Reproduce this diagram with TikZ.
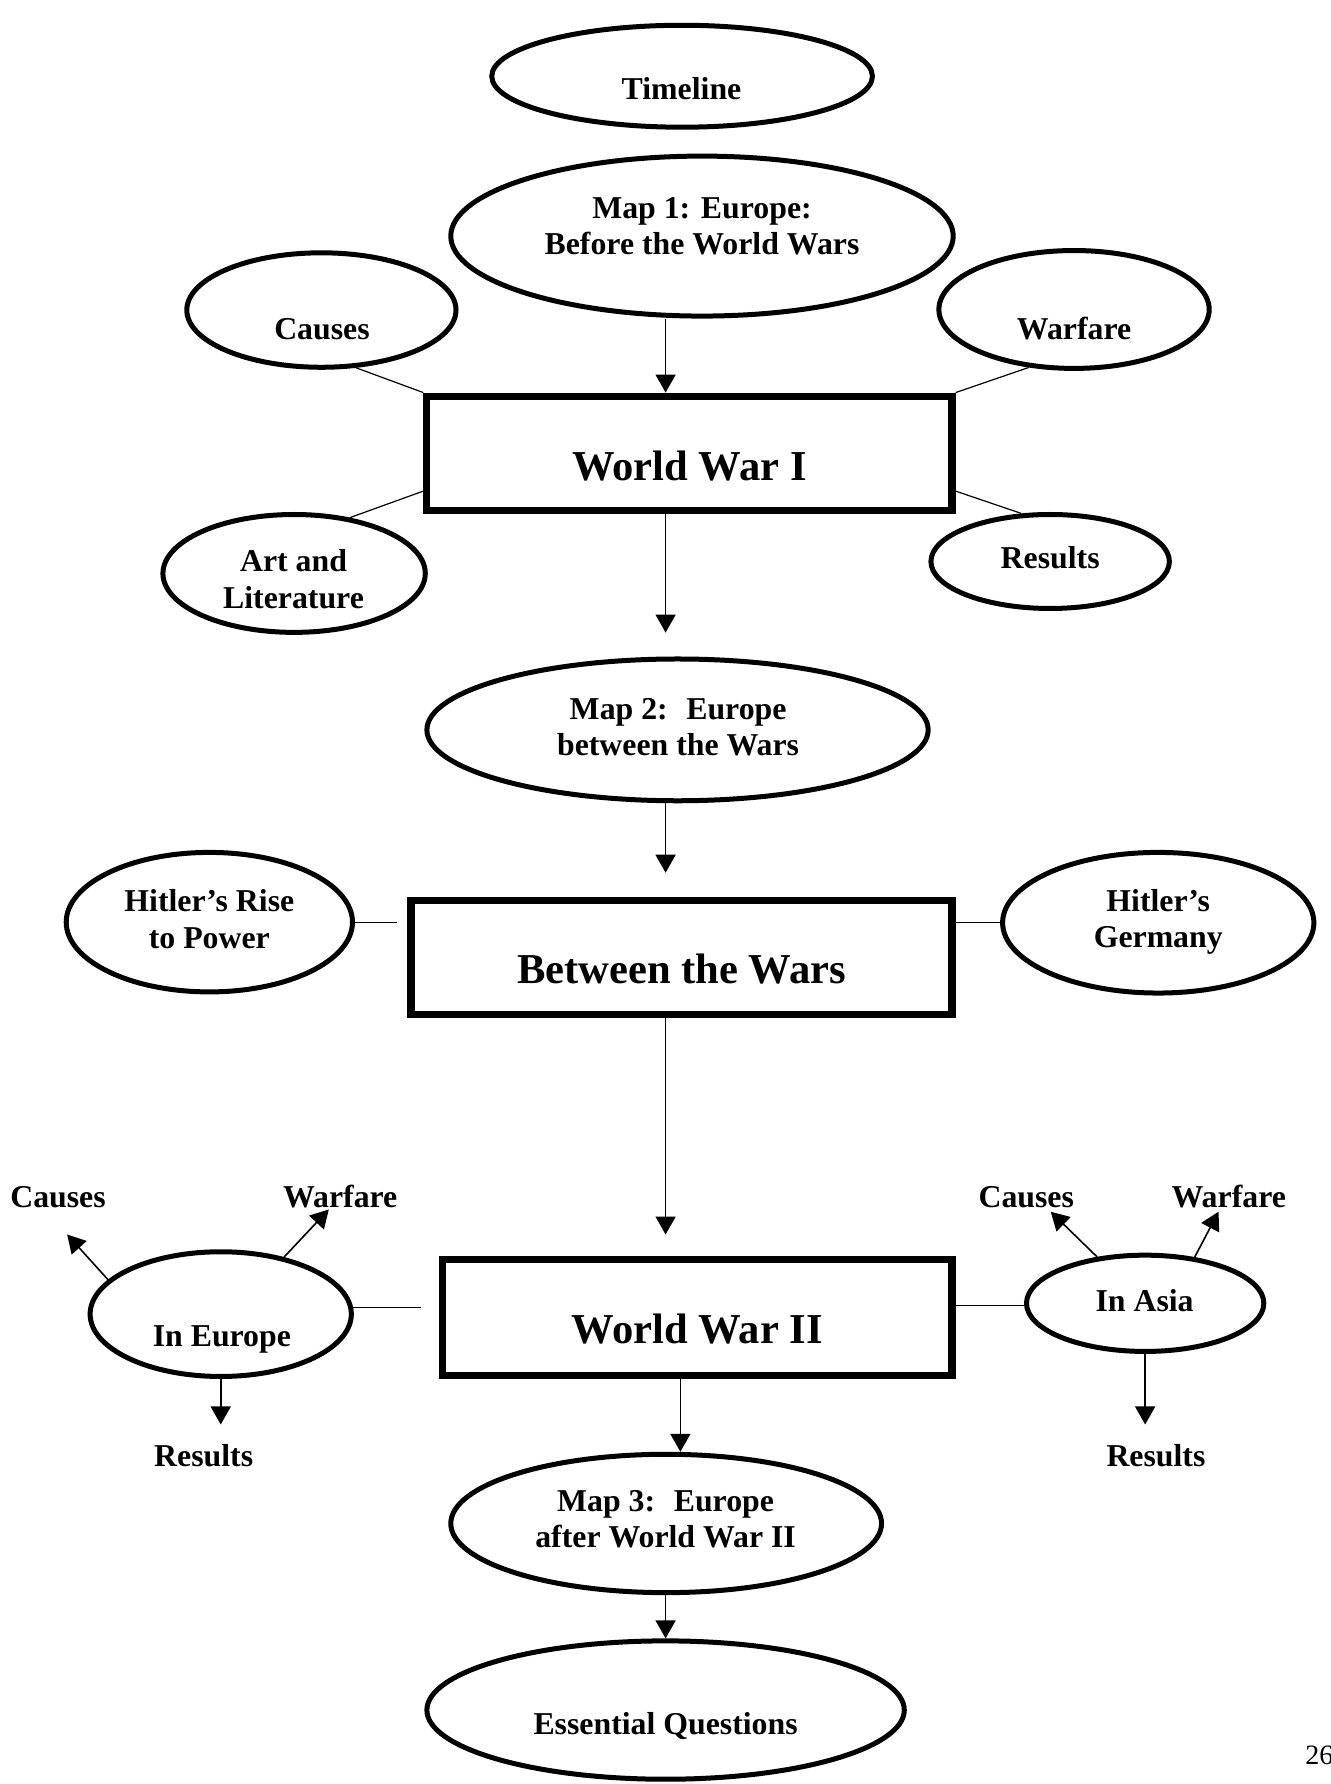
\documentclass[tikz,border=0pt]{standalone}
\usepackage{fontspec}
\setmainfont{Liberation Serif}
\usetikzlibrary{shapes.geometric, arrows.meta, calc, fit}

\begin{document}
\begin{tikzpicture}[x=0.56885pt, y=-0.56885pt,
  oval/.style 2 args={draw, ellipse, line width=2.5pt, inner sep=0pt,
    minimum width=#1*0.56885pt, minimum height=#2*0.56885pt},
  panel/.style={draw, rectangle, line width=3.6pt, inner sep=0pt},
  lbl/.style={font=\bfseries\fontsize{15.9}{18.2}\selectfont, align=center, inner sep=0pt},
  bigtxt/.style={font=\bfseries\fontsize{21.3}{24}\selectfont, inner sep=0pt},
  tie/.style={line width=0.6pt},
  arr/.style={line width=0.8pt, -{Triangle[length=9pt, width=10pt]}},
]
\useasboundingbox (0,0) rectangle (1169,1568);

% ---- ovals ----
\node[oval={334.6}{89.6}]  (tl) at (599.5,67) {};
\node[oval={441.6}{140.6}] (m1) at (617,207.5) {};
\node[oval={236.6}{100.6}] (c1) at (282.5,272.5) {};
\node[oval={237.6}{103.6}] (w1) at (944,272) {};
\node[oval={230.6}{103.6}] (al) at (258.5,504) {};
\node[oval={209.6}{82.6}]  (r1) at (923,493.5) {};
\node[oval={440.6}{124.6}] (m2) at (595.5,641.5) {};
\node[oval={251.6}{122.6}] (hr) at (184,810.5) {};
\node[oval={273.6}{123.6}] (hg) at (1018,811) {};
\node[oval={229.6}{109.6}] (ie) at (194,1155) {};
\node[oval={208.6}{84.6}]  (ia) at (1006.5,1145.5) {};
\node[oval={378.6}{121.6}] (m3) at (585.5,1339) {};
\node[oval={419.6}{121.6}] (eq) at (585,1503) {};

% ---- boxes ----
\node[panel, fit={(375.2,348.2) (836.8,448.8)}]  (ww1) {};
\node[panel, fit={(361.2,791.2) (836.8,891.8)}]  (btw) {};
\node[panel, fit={(389.2,1107.2) (836.8,1208.8)}] (ww2) {};

% ---- texts ----
\node[lbl] (ttl) at (599,78) {Timeline};
\node[lbl] (tm1) at (617,199) {Map 1: Europe:\\Before the World Wars};
\node[lbl] (tc1) at (283,289) {Causes};
\node[lbl] (tw1) at (944,289) {Warfare};
\node[bigtxt] (tww1) at (606,410) {World War I};
\node[lbl] (tal) at (258,509) {Art and\\Literature};
\node[lbl] (tr1) at (923,490) {Results};
\node[lbl] (tm2) at (596,639) {Map 2:~ Europe\\between the Wars};
\node[lbl] (thr) at (184,808) {Hitler’s Rise\\to Power};
\node[lbl] (thg) at (1018,810.5) {Hitler’s\\Germany};
\node[bigtxt] (tbtw) at (599,852) {Between the Wars};
\node[lbl] (tec) at (51,1052) {Causes};
\node[lbl] (tew) at (299,1052) {Warfare};
\node[lbl] (tac) at (902,1052) {Causes};
\node[lbl] (taw) at (1080,1052) {Warfare};
\node[lbl] (tie1) at (195,1177) {In Europe};
\node[bigtxt] (tww2) at (613,1168) {World War II};
\node[lbl] (tia) at (1006,1143) {In Asia};
\node[lbl] (ter) at (179,1279) {Results};
\node[lbl] (tar) at (1016,1279) {Results};
\node[lbl] (tm3) at (585,1335) {Map 3:~ Europe\\after World War II};
\node[lbl] (teq) at (585,1517) {Essential Questions};
\node[font=\fontsize{14}{16}\selectfont, anchor=base west, inner sep=0pt] (pg) at (1147,1551) {26};

% ---- spine positions and free arrow ends ----
\coordinate (sp) at (585,0);
\coordinate (sp2) at (598,0);
\coordinate (ec) at (59,1085);
\coordinate (ew) at (289,1063);
\coordinate (er) at (192,1252);
\coordinate (ac) at (923.5,1065);
\coordinate (aw) at (1071,1065);
\coordinate (ar) at (1006.5,1252);

% ---- plain links ----
\draw[tie] (c1.-59) -- (ww1.north west);
\draw[tie] (w1.-128) -- (ww1.north east);
\draw[tie] (al.45) -- ($(ww1.south west)!0.19!(ww1.north west)$);
\draw[tie] (r1.121) -- ($(ww1.south east)!0.19!(ww1.north east)$);
\draw[tie, shorten >=5pt] (hr.east) -- (hr.east -| btw.west);
\draw[tie] (hg.west) -- (hg.west -| btw.east);
\draw[tie, shorten >=9pt] (ie.3.5) -- (ie.3.5 -| ww2.west);
\draw[tie] (ia.181) -- (ia.181 -| ww2.east);

% ---- arrows along the spine ----
\draw[arr] (m1.south -| sp) -- (ww1.north -| sp);
\draw[arr] (ww1.south -| sp) -- ($(m2.north -| sp)+(0,-21)$);
\draw[arr] (m2.south -| sp) -- ($(btw.north -| sp)+(0,-21)$);
\draw[arr] (btw.south -| sp) -- ($(ww2.north -| sp)+(0,-19)$);
\draw[arr] (ww2.south -| sp2) -- (m3.north -| sp2);
\draw[arr] (m3.south -| sp) -- (eq.north -| sp);

% ---- branch arrows of World War II ----
\draw[arr] (ie.163) -- (ec);
\draw[arr] (ie.42) -- (ew);
\draw[arr] (ie.south) -- (ie.south |- er);
\draw[arr] (ia.136) -- (ac);
\draw[arr] (ia.43) -- (aw);
\draw[arr] (ia.south) -- (ia.south |- ar);
\end{tikzpicture}
\end{document}
